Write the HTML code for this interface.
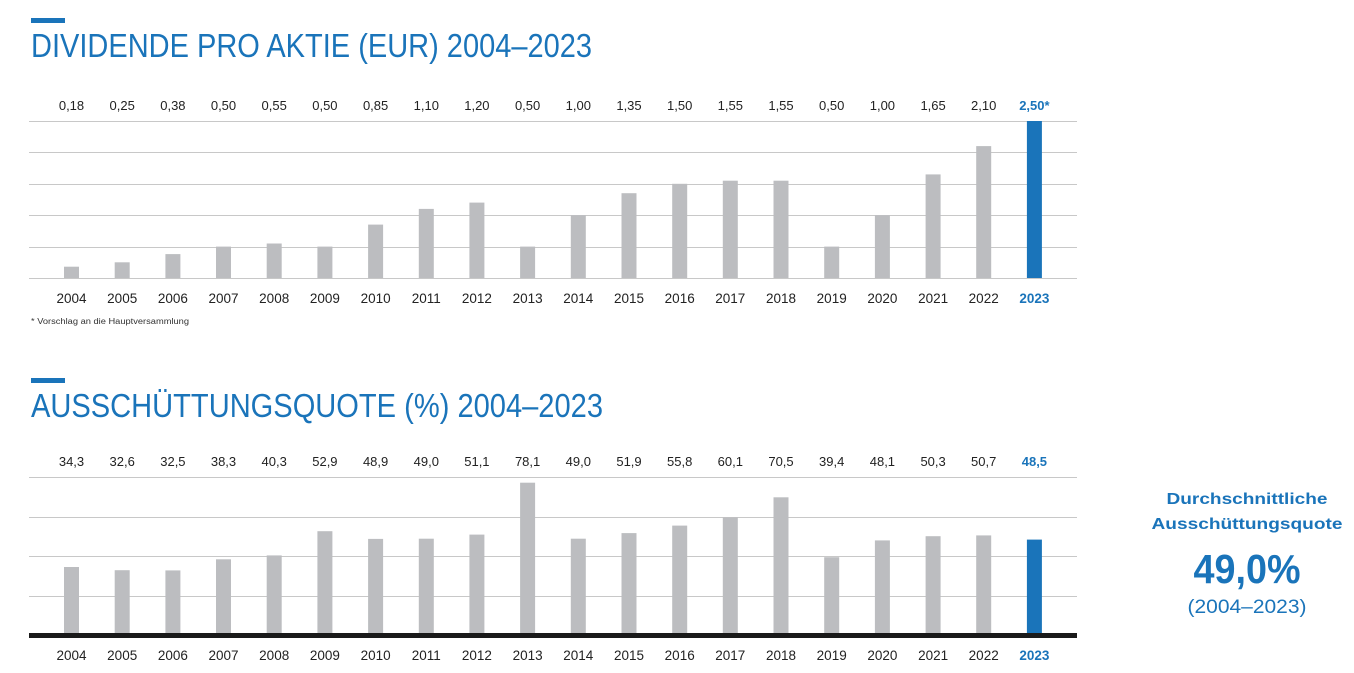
<!DOCTYPE html>
<html><head><meta charset="utf-8"><style>
html,body{margin:0;padding:0;background:#fff;}
svg{display:block;}
text{font-family:"Liberation Sans",sans-serif;}
</style></head><body>
<svg width="1354" height="673" viewBox="0 0 1354 673" xmlns="http://www.w3.org/2000/svg">
<rect x="0" y="0" width="1354" height="673" fill="#fff"/>
<!-- Top chart -->
<rect x="31" y="18" width="34" height="5" fill="#1a74ba"/>
<text x="31" y="57" font-size="33" fill="#1a74ba" textLength="561" lengthAdjust="spacingAndGlyphs">DIVIDENDE PRO AKTIE (EUR) 2004–2023</text>
<g stroke="#c8c8c8" stroke-width="1">
<line x1="29" y1="121.5" x2="1077" y2="121.5"/>
<line x1="29" y1="152.5" x2="1077" y2="152.5"/>
<line x1="29" y1="184.5" x2="1077" y2="184.5"/>
<line x1="29" y1="215.5" x2="1077" y2="215.5"/>
<line x1="29" y1="247.5" x2="1077" y2="247.5"/>
<line x1="29" y1="278.5" x2="1077" y2="278.5"/>
</g>
<g id="topbars"></g>
<g id="topvals" font-size="13" fill="#222" text-anchor="middle"></g>
<g id="topyears" font-size="13.5" fill="#222" text-anchor="middle"></g>
<text x="31" y="324" font-size="8" fill="#333" textLength="158" lengthAdjust="spacingAndGlyphs">* Vorschlag an die Hauptversammlung</text>
<!-- Bottom chart -->
<rect x="31" y="378" width="34" height="5" fill="#1a74ba"/>
<text x="31" y="417" font-size="33" fill="#1a74ba" textLength="572" lengthAdjust="spacingAndGlyphs">AUSSCHÜTTUNGSQUOTE (%) 2004–2023</text>
<g stroke="#c8c8c8" stroke-width="1">
<line x1="29" y1="477.5" x2="1077" y2="477.5"/>
<line x1="29" y1="517.5" x2="1077" y2="517.5"/>
<line x1="29" y1="556.5" x2="1077" y2="556.5"/>
<line x1="29" y1="596.5" x2="1077" y2="596.5"/>
</g>
<g id="botbars"></g>
<rect x="29" y="633" width="1048" height="5" fill="#1a1a1a"/>
<g id="botvals" font-size="13" fill="#222" text-anchor="middle"></g>
<g id="botyears" font-size="13.5" fill="#222" text-anchor="middle"></g>
<!-- Right -->
<g text-anchor="middle" fill="#1a74ba">
<text x="1247" y="504" font-size="16" font-weight="bold" textLength="161" lengthAdjust="spacingAndGlyphs">Durchschnittliche</text>
<text x="1247" y="529" font-size="16" font-weight="bold" textLength="191" lengthAdjust="spacingAndGlyphs">Ausschüttungsquote</text>
<text x="1247" y="583" font-size="41" font-weight="bold" textLength="107" lengthAdjust="spacingAndGlyphs">49,0%</text>
<text x="1247" y="613" font-size="19" textLength="119" lengthAdjust="spacingAndGlyphs">(2004–2023)</text>
</g>
</svg>
<script>
(function(){
var NS="http://www.w3.org/2000/svg";
var top=[0.18,0.25,0.38,0.50,0.55,0.50,0.85,1.10,1.20,0.50,1.00,1.35,1.50,1.55,1.55,0.50,1.00,1.65,2.10,2.50];
var topL=["0,18","0,25","0,38","0,50","0,55","0,50","0,85","1,10","1,20","0,50","1,00","1,35","1,50","1,55","1,55","0,50","1,00","1,65","2,10","2,50*"];
var bot=[34.3,32.6,32.5,38.3,40.3,52.9,48.9,49.0,51.1,78.1,49.0,51.9,55.8,60.1,70.5,39.4,48.1,50.3,50.7,48.5];
function el(tag,attrs,txt,parent){var e=document.createElementNS(NS,tag);for(var k in attrs)e.setAttribute(k,attrs[k]);if(txt!=null)e.textContent=txt;document.getElementById(parent).appendChild(e);return e;}
for(var i=0;i<20;i++){
 var cx=71.5+50.68*i, last=(i==19);
 var col=last?"#1a74ba":"#bcbdc0";
 var h=top[i]*62.8;
 el("rect",{x:(cx-7.5).toFixed(1),y:(278-h).toFixed(1),width:15,height:h.toFixed(1),fill:col},null,"topbars");
 var a={x:cx.toFixed(1),y:110};
 if(last){a.fill="#1a74ba";a["font-weight"]="bold";}
 el("text",a,topL[i],"topvals");
 var b={x:cx.toFixed(1),y:303};
 if(last){b.fill="#1a74ba";b["font-weight"]="bold";}
 el("text",b,String(2004+i),"topyears");
 var h2=bot[i]*1.925;
 el("rect",{x:(cx-7.5).toFixed(1),y:(633-h2).toFixed(1),width:15,height:h2.toFixed(1),fill:col},null,"botbars");
 var c={x:cx.toFixed(1),y:466};
 if(last){c.fill="#1a74ba";c["font-weight"]="bold";}
 el("text",c,bot[i].toFixed(1).replace(".",","),"botvals");
 var d={x:cx.toFixed(1),y:660};
 if(last){d.fill="#1a74ba";d["font-weight"]="bold";}
 el("text",d,String(2004+i),"botyears");
}
})();
</script>
</body></html>
